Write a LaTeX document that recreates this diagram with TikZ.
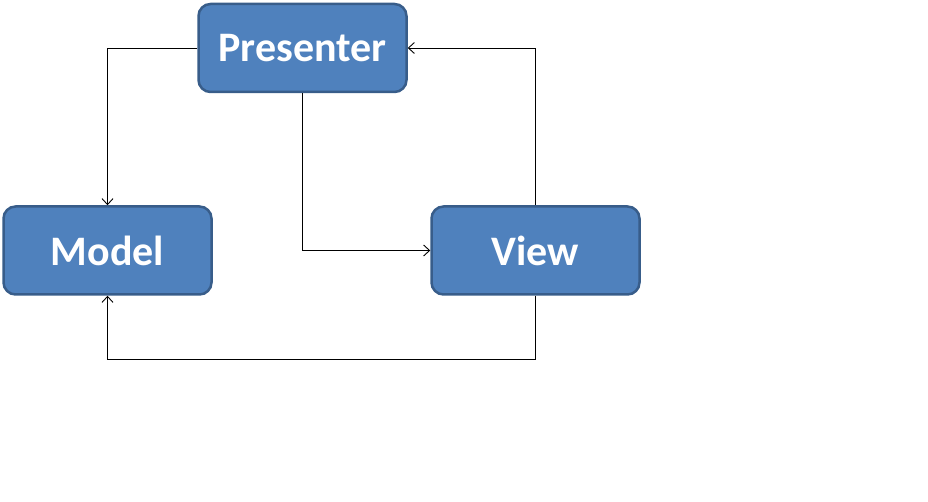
\documentclass[tikz,border=0pt]{standalone}
\usepackage{fontspec}
\setmainfont{Carlito}
\usepackage{tikz}
\usetikzlibrary{arrows.meta}
\usepackage{xcolor}
\definecolor{boxblue}{HTML}{4F81BD}
\definecolor{boxedge}{HTML}{385D8A}
\tikzstyle{mvpbox} = [draw=boxedge, fill=boxblue, line width=2.5pt,
    rectangle, rounded corners=12pt, minimum width=208pt, minimum height=88pt,
    inner sep=0pt, text=white, font=\fontsize{42}{50}\selectfont\bfseries]
\tikzstyle{link} = [-{Straight Barb[length=6pt,width=11pt]}, line width=0.9pt, black]

\begin{document}
\begin{tikzpicture}[x=1pt, y=-1pt]
\useasboundingbox (0,0) rectangle (928,502);
\node [mvpbox] (presenter) at (302.5,48) {\raisebox{-2pt}{Presenter}};
\node [mvpbox] (model) at (107.5,250.5) {\raisebox{-2pt}{Model}};
\node [mvpbox] (view) at (535.5,250.5) {\raisebox{-2pt}{View}};
\coordinate (bottom) at (0,359);
\draw [link] (presenter.west) -| (model.north);
\draw [link] (presenter.south) |- (view.west);
\draw [link] (view.north) |- (presenter.east);
\draw [link] (view.south) -- (view.south |- bottom) -| (model.south);
\end{tikzpicture}
\end{document}
